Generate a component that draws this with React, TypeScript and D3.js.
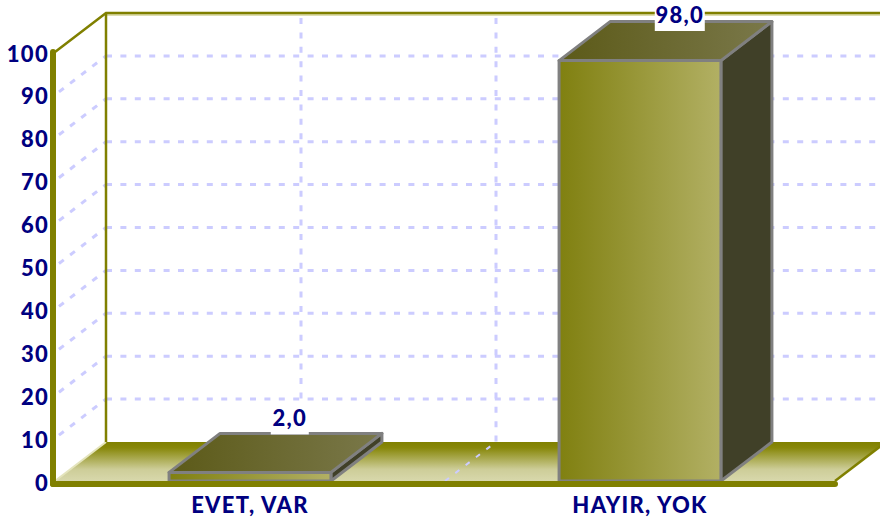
import React from 'react';
import * as d3 from 'd3';

const categories = ['EVET, VAR', 'HAYIR, YOK'];
const values = [2.0, 98.0];
const yTicks = [0, 10, 20, 30, 40, 50, 60, 70, 80, 90, 100];

const W = 880;
const H = 525;
// 3d depth offset of the chart box
const DX = 51;
const DY = -39;
const NAVY = '#000080';
const OLIVE = '#808000';
const GRID = '#ccccff';
const FONT = 'Lato, "DejaVu Sans", sans-serif';

const x = d3.scaleBand<string>().domain(categories).range([55, 835]);
const y = d3.scaleLinear().domain([0, 100]).range([481, 52]);
const bw = x.bandwidth();
const barW = bw * 0.415;
const fmt = (v: number) => v.toFixed(1).replace('.', ',');

const textStyle = {
  fontFamily: FONT,
  fontWeight: 900,
  fontSize: 22,
  fill: NAVY,
  letterSpacing: 1.3,
};

const App = () => {
  const y0 = y(0);
  const yTop = y(100);
  const left = x.range()[0];
  const right = x.range()[1];

  // vertical gridlines on the back wall, each half band
  const vx: number[] = [];
  categories.forEach((c) => {
    vx.push((x(c) as number) + bw / 2);
    vx.push((x(c) as number) + bw);
  });

  return (
    <div style={{ position: 'fixed', left: 0, top: 0 }}>
      <svg width={W} height={H} style={{ display: 'block', background: '#fff' }}>
        <defs>
          <linearGradient id="floorG" x1="0" y1="0" x2="0" y2="1">
            <stop offset="0" stopColor="#808000" />
            <stop offset="0.15" stopColor="#878709" />
            <stop offset="0.7" stopColor="#cdcd98" />
            <stop offset="1" stopColor="#d8d8ac" />
          </linearGradient>
          <linearGradient id="frontG" x1="0" y1="0" x2="1" y2="0">
            <stop offset="0" stopColor="#808010" />
            <stop offset="1" stopColor="#b2b064" />
          </linearGradient>
          <linearGradient id="topG" x1="0" y1="0" x2="1" y2="0">
            <stop offset="0" stopColor="#5c5a18" />
            <stop offset="1" stopColor="#7a784a" />
          </linearGradient>
        </defs>

        {/* back wall gridlines */}
        {yTicks.filter((t) => t > 0 && t < 100).map((t) => (
          <line key={'h' + t} x1={left + DX} x2={W + 10} y1={y(t) + DY} y2={y(t) + DY}
            stroke={GRID} strokeWidth={3} strokeDasharray="6,8.4" />
        ))}
        {vx.map((v, i) => (
          <line key={'v' + i} x1={v + DX} x2={v + DX} y1={yTop + DY + 5} y2={y0 + DY}
            stroke={GRID} strokeWidth={3} strokeDasharray="6,8.4" />
        ))}
        {/* left wall gridlines */}
        {yTicks.filter((t) => t > 0 && t < 100).map((t) => (
          <line key={'l' + t} x1={left + 4} x2={left + DX} y1={y(t) - 3} y2={y(t) + DY}
            stroke={GRID} strokeWidth={3} strokeDasharray="6,8" />
        ))}

        {/* floor */}
        <polygon
          points={`${left},${y0} ${right},${y0} ${right + DX},${y0 + DY} ${left + DX},${y0 + DY}`}
          fill="url(#floorG)" />
        <line x1={left} y1={y0} x2={left + DX} y2={y0 + DY} stroke="#e4e4bc" strokeWidth={2} />
        <line x1={right} y1={y0} x2={right + DX} y2={y0 + DY} stroke={OLIVE} strokeWidth={2.5} />
        {vx.slice(0, -1).map((v, i) => (
          <line key={'f' + i} x1={v} x2={v + DX} y1={y0} y2={y0 + DY}
            stroke={GRID} strokeWidth={2} strokeDasharray="5,8" />
        ))}

        {/* wall edges */}
        <line x1={left + DX} x2={W + 10} y1={yTop + DY + 2} y2={yTop + DY + 2} stroke="#dedeb0" strokeWidth={2} />
        <polyline points={`${left},${yTop} ${left + DX},${yTop + DY} ${W + 10},${yTop + DY}`}
          fill="none" stroke={OLIVE} strokeWidth={2.5} />
        <line x1={left + DX} x2={left + DX} y1={yTop + DY} y2={y0 + DY} stroke={OLIVE} strokeWidth={2.5} />

        {/* bars */}
        {categories.map((c, i) => {
          const x0 = (x(c) as number) + (bw - barW) / 2;
          const x1 = x0 + barW;
          const yt = y(values[i]);
          return (
            <g key={c} stroke="#808080" strokeWidth={3} strokeLinejoin="round">
              <polygon fill="#404028"
                points={`${x1},${yt} ${x1 + DX},${yt + DY} ${x1 + DX},${y0 + DY} ${x1},${y0}`} />
              <polygon fill="url(#topG)"
                points={`${x0},${yt} ${x1},${yt} ${x1 + DX},${yt + DY} ${x0 + DX},${yt + DY}`} />
              <rect x={x0} y={yt} width={barW} height={y0 - yt} fill="url(#frontG)" />
            </g>
          );
        })}

        {/* value labels */}
        {categories.map((c, i) => {
          const cx = (x(c) as number) + bw / 2 + 0.78 * DX;
          const cy = Math.max(y(values[i]) + DY - 16, 14);
          const label = fmt(values[i]);
          const tw = label.length * 12 + 2;
          return (
            <g key={'lab' + c}>
              <rect x={cx - tw / 2} y={cy - 13} width={tw} height={30} fill="#fff" />
              <text x={cx} y={cy} textAnchor="middle" dominantBaseline="central" style={textStyle}>{label}</text>
            </g>
          );
        })}

        {/* front axis lines */}
        <line x1={53} x2={53} y1={yTop} y2={y0 + 3} stroke={OLIVE} strokeWidth={6} strokeLinecap="round" />
        <line x1={53} x2={right} y1={y0 + 3} y2={y0 + 3} stroke={OLIVE} strokeWidth={6} strokeLinecap="round" />

        {/* tick labels */}
        {yTicks.map((t) => (
          <text key={'t' + t} x={49} y={y(t) + 1} textAnchor="end" dominantBaseline="central" style={textStyle}>{t}</text>
        ))}
        {categories.map((c) => (
          <text key={'c' + c} x={(x(c) as number) + bw / 2} y={513} textAnchor="middle" style={textStyle}>{c}</text>
        ))}
      </svg>
    </div>
  );
};

export default App;
